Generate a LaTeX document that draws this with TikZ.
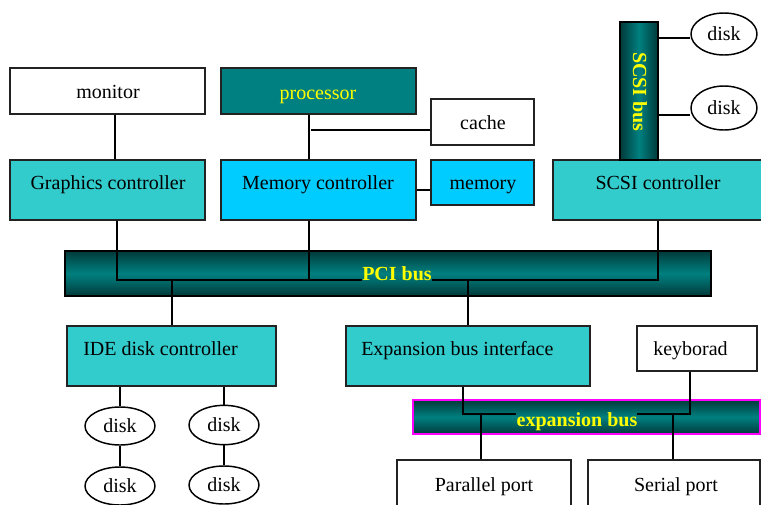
\documentclass[tikz,border=0pt]{standalone}
\usepackage{fontspec}
\setmainfont{Liberation Serif}
\usetikzlibrary{fit,shapes.geometric}
\definecolor{ctrl}{HTML}{33CCCC}
\definecolor{memc}{HTML}{00CCFF}
\definecolor{proc}{HTML}{008080}
\definecolor{busdark}{HTML}{013A3A}
\definecolor{txtyellow}{HTML}{FFFF00}
\definecolor{edgegray}{HTML}{222222}
\definecolor{pinkedge}{HTML}{FF00FF}
\begin{document}
\begin{tikzpicture}[x=0.75pt,y=-0.75pt,
  every node/.style={font=\fontsize{15}{17}\selectfont},
  boxshape/.style={draw=edgegray,line width=1.1pt,inner sep=0pt,rectangle},
  plainbox/.style={boxshape,fill=white},
  ctrlbox/.style={boxshape,fill=ctrl},
  membox/.style={boxshape,fill=memc},
  hbus/.style={rectangle,inner sep=0pt,line width=1.1pt,top color=busdark,bottom color=busdark,middle color=proc},
  vbus/.style={rectangle,inner sep=0pt,line width=1.1pt,left color=busdark,right color=busdark,middle color=proc},
  disk/.style={ellipse,draw=black,line width=1.1pt,fill=white,inner sep=0pt},
  lbl/.style={inner sep=0pt,anchor=base},
  lbll/.style={inner sep=0pt,anchor=base west},
  buslbl/.style={inner sep=0pt,text=txtyellow,font=\fontsize{15}{17}\selectfont\bfseries},
  wire/.style={draw=black,line width=1.1pt}
]
\useasboundingbox (0,0) rectangle (761,504);

% top row
\node[plainbox,fit={(10,68) (205,114)}] (monitor) {};
\node[lbl] (monitorT) at (108,98) {monitor};
\node[boxshape,fill=proc,fit={(221,68) (416,114)}] (processor) {};
\node[lbl,text=txtyellow] (processorT) at (318,99) {processor};
\node[plainbox,fit={(431,99) (534,145)}] (cache) {};
\node[lbl] (cacheT) at (483,129) {cache};

% controllers row
\node[ctrlbox,fit={(10,160) (205,220)}] (graphics) {};
\node[lbl] (graphicsT) at (108,189) {Graphics controller};
\node[membox,fit={(221,160) (416,220)}] (memctrl) {};
\node[lbl] (memctrlT) at (318,189) {Memory controller};
\node[membox,fit={(431,160) (534,205)}] (memory) {};
\node[lbl] (memoryT) at (483,189) {memory};
\node[ctrlbox,fit={(553,160) (762,220)}] (scsictrl) {};
\node[lbl] (scsictrlT) at (658,189) {SCSI controller};

% SCSI bus
\node[vbus,draw=black,fit={(620,22) (658,160)}] (scsibus) {};
\node[buslbl,rotate=-90] (scsibusT) at (640,92) {SCSI bus};
\node[disk,minimum width=49.5pt,minimum height=31.5pt] (sd1) at (724,34) {disk};
\node[disk,minimum width=49.5pt,minimum height=33pt] (sd2) at (724,108) {disk};
\draw[wire] (scsibus.east |- 0,38) -- (sd1.west |- 0,38);
\draw[wire] (scsibus.east |- 0,115) -- (sd2.west |- 0,115);

% PCI bus
\node[hbus,draw=black,fit={(65,251) (711,296)}] (pci) {};
\node[buslbl] (pciT) at (397,274) {PCI bus};
\coordinate (pciL) at (362,280);
\coordinate (pciR) at (432,280);

% lower row
\node[ctrlbox,fit={(67,326) (276,386)}] (ide) {};
\node[lbll] (ideT) at (83,355) {IDE disk controller};
\node[ctrlbox,fit={(346,326) (590,386)}] (expif) {};
\node[lbll] (expifT) at (361,355) {Expansion bus interface};
\node[plainbox,fit={(637,326) (757,371)}] (keyb) {};
\node[lbll] (keybT) at (653,355) {keyborad};

% expansion bus
\node[hbus,draw=pinkedge,fit={(413,400) (760,434)}] (expbus) {};
\node[buslbl] (expbusT) at (577,422) {expansion bus};
\coordinate (expL) at (516,414);
\coordinate (expR) at (637,414);

\node[plainbox,fit={(397,460) (571,520)}] (par) {};
\node[lbl] (parT) at (484,491) {Parallel port};
\node[plainbox,fit={(588,460) (760,520)}] (ser) {};
\node[lbl] (serT) at (676,491) {Serial port};

% IDE disks
\node[disk,minimum width=52.5pt,minimum height=28.5pt] (d1) at (120,426) {disk};
\node[disk,minimum width=52.5pt,minimum height=28.5pt] (d2) at (120,486) {disk};
\node[disk,minimum width=52.5pt,minimum height=29.5pt] (d3) at (224,425) {disk};
\node[disk,minimum width=52.5pt,minimum height=28.5pt] (d4) at (224,485) {disk};

% connectors
\draw[wire] (monitor.south -| 115,0) -- (graphics.north -| 115,0);
\draw[wire] (processor.south -| 309,0) -- (memctrl.north -| 309,0);
\draw[wire] (311,130) -- (cache.west |- 0,130);
\draw[wire] (memctrl.east |- 0,190) -- (memory.west |- 0,190);

\draw[wire] (graphics.south -| 117,0) -- (117,280) -- (pciL);
\draw[wire] (memctrl.south -| 309,0) -- (309,280);
\draw[wire] (scsictrl.south -| 658,0) -- (658,280) -- (pciR);
\draw[wire] (172,280) -- (ide.north -| 172,0);
\draw[wire] (468,280) -- (expif.north -| 468,0);

\draw[wire] (ide.south -| 120,0) -- (d1.north -| 120,0);
\draw[wire] (d1) -- (d2);
\draw[wire] (ide.south -| 224,0) -- (d3.north -| 224,0);
\draw[wire] (d3) -- (d4);

\draw[wire] (expif.south -| 463,0) -- (463,414) -- (expL);
\draw[wire] (keyb.south -| 690,0) -- (690,414) -- (expR);
\draw[wire] (481,414) -- (par.north -| 481,0);
\draw[wire] (673,414) -- (ser.north -| 673,0);
\end{tikzpicture}
\end{document}
